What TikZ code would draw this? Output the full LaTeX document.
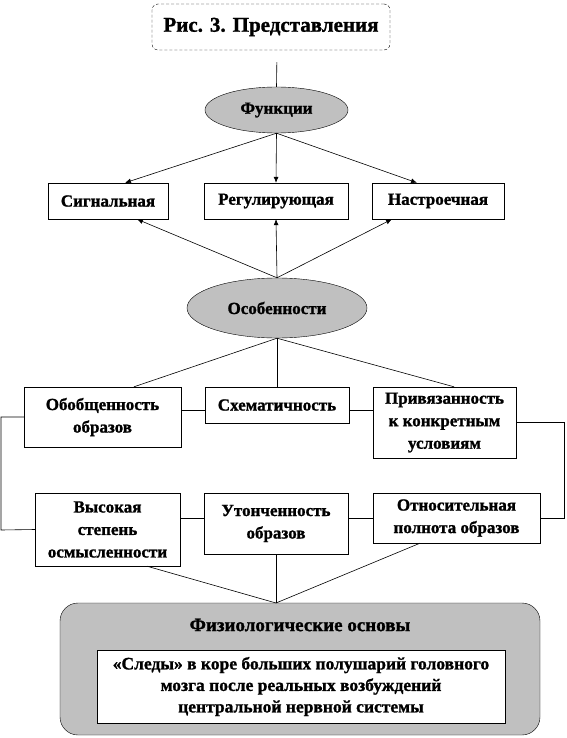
\documentclass[tikz,border=0pt]{standalone}
\usepackage{fontspec}
\setmainfont[BoldFeatures={FakeBold=1.2}]{Liberation Serif}
\definecolor{ovalgray}{RGB}{192,192,192}
\usetikzlibrary{arrows.meta,shapes.geometric}

\begin{document}
\begin{tikzpicture}[x=1pt,y=-1pt,
  titlebox/.style={draw,densely dashed,rounded corners=6pt,inner sep=0pt,
    minimum width=238pt,minimum height=46pt,font=\fontsize{21}{24}\selectfont\bfseries},
  oval/.style={draw,ellipse,fill=ovalgray,inner sep=0pt,
    font=\fontsize{17}{20}\selectfont\bfseries},
  featbox/.style={draw,fill=white,inner sep=0pt,align=center,
    font=\fontsize{17}{22.5}\selectfont\bfseries},
  link/.style={line width=0.6pt},
  arr/.style={link,-{Latex[length=6pt,width=5pt]}}
]
  \useasboundingbox (0,0) rectangle (566,738);

  % Title
  \node[titlebox] (title) at (271,27) {Рис. 3. Представления};

  % Functions
  \node[oval,minimum width=143pt,minimum height=46pt] (func) at (276.5,110) {Функции};
  \node[featbox,minimum width=120pt,minimum height=36pt] (sig) at (108,201) {Сигнальная};
  \node[featbox,minimum width=144pt,minimum height=36pt] (reg) at (276,201) {Регулирующая};
  \node[featbox,minimum width=132pt,minimum height=36pt] (nas) at (438,201) {Настроечная};

  % Features
  \node[oval,minimum width=180pt,minimum height=60pt] (feat) at (277,308) {Особенности};

  % Row 1
  \node[featbox,minimum width=157pt,minimum height=60pt] (gen) at (102.5,417) {Обобщенность\\образов};
  \node[featbox,minimum width=144pt,minimum height=36pt] (sch) at (277,405) {Схематичность};
  \node[featbox,minimum width=143pt,minimum height=71pt] (att) at (444.5,422.5) {Привязанность\\к конкретным\\условиям};

  % Row 2
  \node[featbox,minimum width=145pt,minimum height=73pt] (high) at (107.5,529.5) {Высокая\\степень\\осмысленности};
  \node[featbox,minimum width=144pt,minimum height=61pt] (thin) at (276,523.5) {Утонченность\\образов};
  \node[featbox,minimum width=167pt,minimum height=50pt] (rel) at (456.5,518) {Относительная\\полнота образов};

  % Basis
  \node[draw,fill=ovalgray,rounded corners=18pt,minimum width=480pt,minimum height=132pt] (base) at (300,669) {};
  \node[font=\fontsize{19}{22}\selectfont\bfseries] (basetitle) at (300,625) {Физиологические основы};
  \node[featbox,minimum width=408pt,minimum height=73pt,font=\fontsize{17.5}{21.5}\selectfont\bfseries] (trace) at (301,686.5)
    {«Следы» в коре больших полушарий головного\\мозга после реальных возбуждений\\центральной нервной системы};

  \coordinate (lt) at (1,417);
  \coordinate (lb) at (1,530);
  \coordinate (rt) at (564,422.5);
  \coordinate (rb) at (564,518);
  \coordinate (join) at (276,603);

  % Connectors
  \draw[link,shorten <=12pt] ([xshift=6pt]title.south) -- (func.north);
  \draw[arr] (func.south) -- ([xshift=17pt]sig.north);
  \draw[arr] (func.south) -- (reg.north);
  \draw[arr] (func.south) -- ([xshift=-21pt]nas.north);
  \draw[arr] (feat.north) -- ([xshift=29pt]sig.south);
  \draw[arr] (feat.north) -- (reg.south);
  \draw[arr] (feat.north) -- ([xshift=-46pt]nas.south);

  \draw[link] (feat.south) -- ([xshift=31.5pt]gen.north);
  \draw[link] (feat.south) -- (sch.north);
  \draw[link] (feat.south) -- ([xshift=9.5pt]att.north);
  \draw[link] ([yshift=7pt]gen.east) -- ([yshift=-5pt]sch.west);
  \draw[link] ([yshift=-5pt]sch.east) -- ([yshift=12.5pt]att.west);
  \draw[link] (gen.west) -- (lt) -- (lb) -- (high.west);
  \draw[link] (att.east) -- (rt) -- (rb) -- (rel.east);

  \draw[link] ([yshift=11.5pt]high.east) -- ([yshift=5.5pt]thin.west);
  \draw[link] ([yshift=5.5pt]thin.east) -- (rel.west);
  \draw[link] ([xshift=39.5pt]high.south) -- (join);
  \draw[link] (thin.south) -- (join);
  \draw[link] ([xshift=-36.5pt]rel.south) -- (join);
\end{tikzpicture}
\end{document}
